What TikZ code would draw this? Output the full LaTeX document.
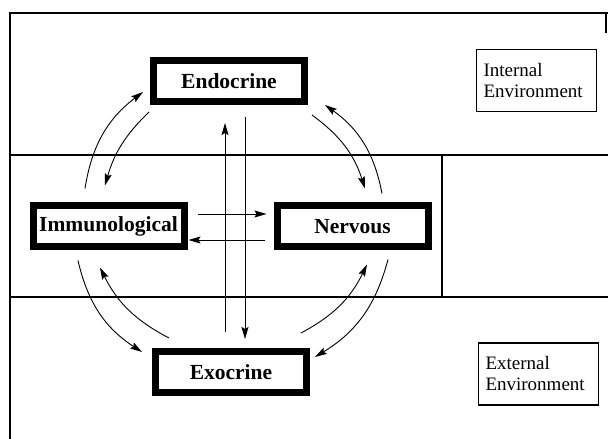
\documentclass[tikz,border=0pt]{standalone}
\usepackage{fontspec}
\setmainfont{Liberation Serif}
\usepackage{tikz}
\usetikzlibrary{arrows.meta}

\tikzset{
  sysbox/.style={draw, line width=7pt, minimum width=151pt, minimum height=41pt, inner sep=0pt,
    font=\fontsize{21.5}{24}\selectfont\bfseries},
  envbox/.style={draw, line width=1.2pt, text width=106pt, inner xsep=7pt, minimum height=62pt,
    align=left, font=\fontsize{19}{21}\selectfont},
  frame/.style={line width=2pt},
  link/.style={line width=0.9pt, -{Stealth[length=12pt,width=7pt,inset=2pt]}}
}

\begin{document}
\begin{tikzpicture}[x=1pt,y=1pt]
\useasboundingbox (0,0) rectangle (608,439);

\draw[frame] (10,0) -- (10,426) -- (608,426);
\draw[frame] (606,426) -- (606,406);
\draw[frame] (10,284) -- (608,284);
\draw[frame] (10,142) -- (608,142);
\draw[frame] (442,284) -- (442,142);

\node[sysbox] (endocrine) at (229,358) {Endocrine};
\node[sysbox] (immuno) at (108.5,212.5) {Immunological};
\node[sysbox] (nervous) at (352.5,212.5) {Nervous};
\node[sysbox] (exocrine) at (231,67) {Exocrine};

\node[envbox] (internal) at (536.5,358.5) {Internal\\Environment};
\node[envbox] (external) at (538.5,65) {External\\Environment};

\draw[link] ([shift={(-23.5,14)}]immuno.north) to[bend left=22] ([shift={(-7,-11)}]endocrine.west);
\draw[link] ([shift={(-1,-7)}]endocrine.south west) to[bend right=15] ([shift={(-3.5,17)}]immuno.north);
\draw[link] ([shift={(29.5,9)}]nervous.north) to[bend right=22] ([shift={(17,0)}]endocrine.south east);
\draw[link] ([shift={(4,-10)}]endocrine.south east) to[bend left=18] ([shift={(12.5,14)}]nervous.north);
\draw[link] ([shift={(-30.5,-10)}]immuno.south) to[bend right=22] ([shift={(-10,-4)}]exocrine.north west);
\draw[link] ([shift={(17,10)}]exocrine.north west) to[bend left=18] ([shift={(-8.5,-17)}]immuno.south);
\draw[link] ([shift={(35.5,-9)}]nervous.south) to[bend left=22] ([shift={(5,-9)}]exocrine.north east);
\draw[link] ([shift={(-9,15)}]exocrine.north east) to[bend right=18] ([shift={(14.5,-14)}]nervous.south);

\draw[link] ([shift={(-6,16)}]exocrine.north) -- ([shift={(-4,-18)}]endocrine.south);
\draw[link] ([shift={(16,-12)}]endocrine.south) -- ([shift={(14,9)}]exocrine.north);
\draw[link] ([shift={(10,12.5)}]immuno.east) -- ([shift={(-7,12.5)}]nervous.west);
\draw[link] ([shift={(-9,-13.5)}]nervous.west) -- ([shift={(1,-13.5)}]immuno.east);
\end{tikzpicture}
\end{document}
